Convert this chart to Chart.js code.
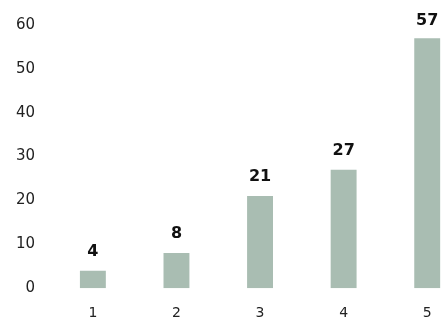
<head>
  <script src="https://cdn.jsdelivr.net/npm/chart.js@4/dist/chart.umd.min.js"></script>
  <style>
    body { margin: 0; overflow: hidden; background: #fff; }
  </style>
</head>

<body>
  <canvas id="myChart" width="469" height="340"></canvas>
  <script>
    var xValues = ["1", "2", "3", "4", "5"];
    var yValues = [4, 8, 21, 27, 57];
    var yTicks = [0, 10, 20, 30, 40, 50, 60];

    // draws the value above each bar
    var valueLabels = {
      id: "valueLabels",
      afterDatasetsDraw: function (chart) {
        var ctx = chart.ctx;
        var meta = chart.getDatasetMeta(0);
        ctx.save();
        ctx.font = "bold 16px 'DejaVu Sans'";
        ctx.fillStyle = "#111";
        ctx.textAlign = "center";
        ctx.textBaseline = "alphabetic";
        meta.data.forEach(function (bar, i) {
          ctx.fillText(yValues[i], bar.x, Math.max(bar.y - 15, 25));
        });
        ctx.restore();
      },
    };

    new Chart("myChart", {
      type: "bar",
      data: {
        labels: xValues,
        datasets: [
          {
            backgroundColor: "#a9bdb2",
            data: yValues,
            categoryPercentage: 1,
            barPercentage: 0.31,
          },
        ],
      },
      options: {
        responsive: false,
        animation: false,
        layout: { padding: { top: 20, left: 0, bottom: 1, right: 0 } },
        plugins: {
          legend: { display: false },
          tooltip: { enabled: false },
        },
        scales: {
          x: {
            grid: { display: false, drawTicks: false },
            border: { display: false },
            ticks: {
              color: "#222",
              font: { family: "DejaVu Sans", size: 14 },
              padding: 17,
              maxRotation: 0,
            },
          },
          y: {
            min: 0,
            max: 60,
            afterBuildTicks: function (axis) {
              axis.ticks = yTicks.map(function (v) { return { value: v }; });
            },
            grid: { display: false, drawTicks: false },
            border: { display: false },
            ticks: {
              color: "#222",
              font: { family: "DejaVu Sans", size: 15 },
              padding: 16,
            },
          },
        },
      },
      plugins: [valueLabels],
    });
  </script>
</body>
